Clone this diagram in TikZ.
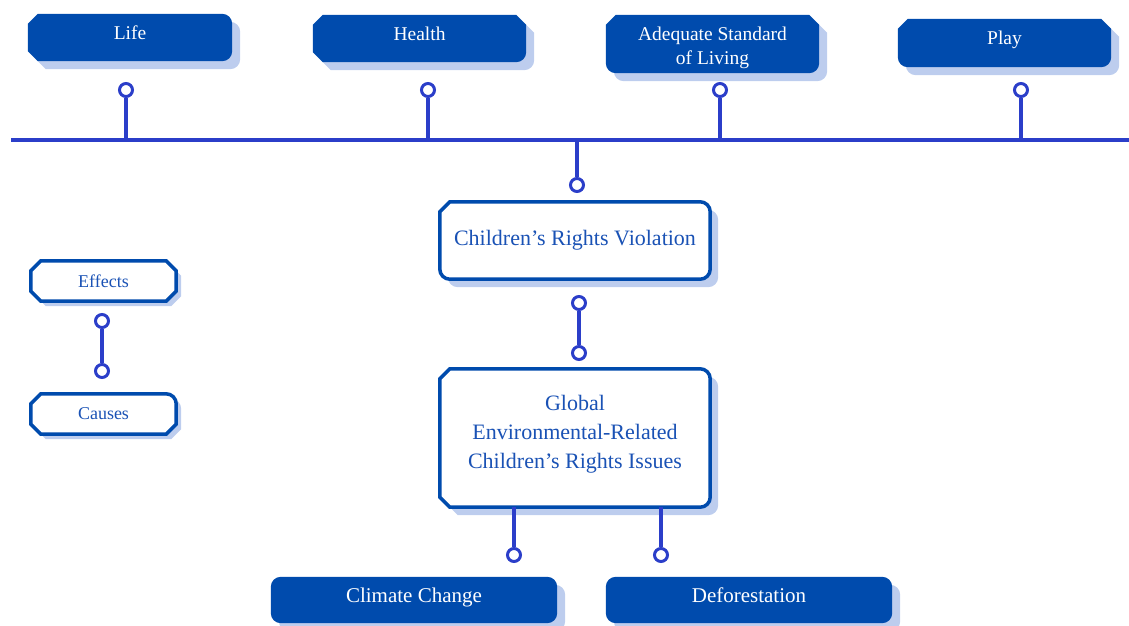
\documentclass[tikz,border=0pt]{standalone}
\usepackage{fontspec}
\setmainfont{Liberation Serif}
\usetikzlibrary{backgrounds}

\definecolor{boxblue}{HTML}{004BAD}
\definecolor{shadeblue}{HTML}{BDCDEE}
\definecolor{linkblue}{HTML}{2B3EC9}
\definecolor{inkblue}{HTML}{1A52B5}

\newcommand{\cut}{10pt}
\newcommand{\rad}{10pt}

% corner pieces, clockwise from the top left
\tikzset{
  tlc/.style={insert path={-- ([yshift=-\cut]#1.north west) -- ([xshift=\cut]#1.north west)}},
  tlr/.style={insert path={-- ([yshift=-\rad]#1.north west) arc[start angle=180,end angle=90,radius=\rad]}},
  trc/.style={insert path={-- ([xshift=-\cut]#1.north east) -- ([yshift=-\cut]#1.north east)}},
  trr/.style={insert path={-- ([xshift=-\rad]#1.north east) arc[start angle=90,end angle=0,radius=\rad]}},
  brc/.style={insert path={-- ([yshift=\cut]#1.south east) -- ([xshift=-\cut]#1.south east)}},
  brr/.style={insert path={-- ([yshift=\rad]#1.south east) arc[start angle=0,end angle=-90,radius=\rad]}},
  blc/.style={insert path={-- ([xshift=\cut]#1.south west) -- ([yshift=\cut]#1.south west)}},
  blr/.style={insert path={-- ([xshift=\rad]#1.south west) arc[start angle=270,end angle=180,radius=\rad]}},
}

% shadow and box behind a node
\newcommand{\tagbox}[7]{%
  \path[shade=#7] (#1.west) [tl#2=#1] [tr#3=#1] [br#4=#1] [bl#5=#1] -- cycle;
  \path[#6] (#1.west) [tl#2=#1] [tr#3=#1] [br#4=#1] [bl#5=#1] -- cycle;}

\begin{document}
\begin{tikzpicture}[x=1pt,y=1pt,
    label/.style={inner sep=0pt, align=center},
    oneline/.style={text height=0.7em, text depth=0.3em},
    solidbox/.style={label, text=white, font=\fontsize{19.5}{24}\selectfont},
    plainbox/.style={label, text=inkblue, font=\fontsize{22}{29}\selectfont},
    keybox/.style={label, text=inkblue, font=\fontsize{18}{22}\selectfont},
    footbox/.style={label, oneline, text=white, font=\fontsize{21}{24}\selectfont},
    bluefill/.style={fill=boxblue},
    rim/.style={fill=white, draw=boxblue, line width=3.5pt},
    shade/.style={fill=shadeblue, transform canvas={shift={(#1,-#1)}}},
    link/.style={draw=linkblue, line width=3.2pt},
    dot/.style={circle, draw=linkblue, fill=white, line width=3pt, minimum size=13pt, inner sep=0pt}]
  \useasboundingbox (0,0) rectangle (1129,-626);

  % rights on the timeline
  \node[solidbox, oneline, minimum width=204pt, minimum height=47pt] (life) at (130,-37.5) {Life};
  \node[solidbox, oneline, minimum width=213pt, minimum height=47pt] (health) at (419.5,-38.5) {Health};
  \node[solidbox, text height=45pt, minimum width=213pt, minimum height=58pt] (living) at (712.5,-44) {Adequate Standard\\of Living};
  \node[solidbox, oneline, minimum width=213pt, minimum height=48pt] (play) at (1004.5,-43) {Play};

  % centre column
  \node[plainbox, minimum width=270pt, minimum height=77pt] (violation) at (575,-240.5) {Children’s Rights Violation};
  \node[plainbox, text depth=12pt, minimum width=270pt, minimum height=138pt] (issues) at (575,-438) {Global\\Environmental-Related\\Children’s Rights Issues};
  \node[footbox, minimum width=286pt, minimum height=46pt] (climate) at (414,-600) {Climate Change};
  \node[footbox, minimum width=286pt, minimum height=46pt] (forest) at (749,-600) {Deforestation};

  % key
  \node[keybox, minimum width=145pt, minimum height=40pt] (effects) at (103.5,-281) {Effects};
  \node[keybox, minimum width=145pt, minimum height=40pt] (causes) at (103.5,-414) {Causes};

  \begin{pgfonlayer}{background}
    \tagbox{life}{c}{r}{r}{c}{bluefill}{8pt}
    \tagbox{health}{c}{c}{r}{c}{bluefill}{8pt}
    \tagbox{living}{c}{c}{r}{r}{bluefill}{8pt}
    \tagbox{play}{c}{c}{r}{r}{bluefill}{8pt}
    \tagbox{violation}{c}{r}{r}{r}{rim}{8pt}
    \tagbox{issues}{c}{r}{r}{c}{rim}{8pt}
    \tagbox{climate}{r}{r}{r}{r}{bluefill}{8pt}
    \tagbox{forest}{r}{r}{r}{r}{bluefill}{8pt}
    \tagbox{effects}{c}{c}{c}{c}{rim}{5pt}
    \tagbox{causes}{c}{r}{c}{c}{rim}{5pt}
  \end{pgfonlayer}

  % timeline
  \coordinate (lineW) at (11,-140);
  \coordinate (lineE) at (1129,-140);
  \draw[link] (lineW) -- (lineE);

  \node[dot] (dLife) at (126,-90) {};
  \node[dot] (dHealth) at (428,-90) {};
  \node[dot] (dLiving) at (720,-90) {};
  \node[dot] (dPlay) at (1021,-90) {};
  \node[dot] (dTop) at (577,-185) {};
  \node[dot] (dViolation) at (579,-303) {};
  \node[dot] (dIssues) at (579,-353) {};
  \node[dot] (dClimate) at (514,-555) {};
  \node[dot] (dForest) at (661,-555) {};
  \node[dot] (dEffects) at (102,-321) {};
  \node[dot] (dCauses) at (102,-371) {};

  \foreach \d in {dLife,dHealth,dLiving,dPlay,dTop}
    \draw[link] (\d) -- (\d |- lineW);
  \draw[link] (dViolation) -- (dIssues);
  \draw[link] (dClimate |- issues.south) -- (dClimate);
  \draw[link] (dForest |- issues.south) -- (dForest);
  \draw[link] (dEffects) -- (dCauses);
\end{tikzpicture}
\end{document}
